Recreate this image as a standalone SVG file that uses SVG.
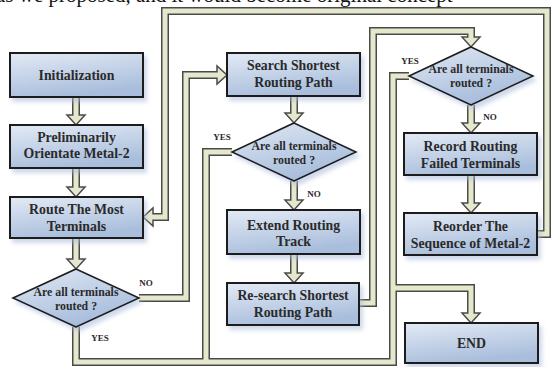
<svg xmlns="http://www.w3.org/2000/svg" xmlns:xlink="http://www.w3.org/1999/xlink" width="551" height="367" viewBox="0 0 551 367">
<style>
.pd{fill:none;stroke:#4a4a48;stroke-width:8;stroke-linejoin:miter}
.pl{fill:none;stroke:#e6e8cd;stroke-width:5;stroke-linejoin:miter}
.hd{fill:#e6e8cd;stroke:#4a4a48;stroke-width:1.5;stroke-linejoin:miter}
.box{fill:url(#gb);stroke:#1e1e1e;stroke-width:2;filter:url(#sh)}
.dia{fill:url(#gd);stroke:#1e1e1e;stroke-width:1.6;filter:url(#sh)}
.t{font-family:"Liberation Serif","Times New Roman",serif;font-weight:bold;font-size:13.8px;fill:#2a2a2a;text-anchor:middle}
.td{font-family:"Liberation Serif","Times New Roman",serif;font-weight:bold;font-size:11.8px;fill:#2a2a2a;text-anchor:middle}
.lb{font-family:"Liberation Serif","Times New Roman",serif;font-weight:bold;font-size:9px;fill:#2a2a2a;text-anchor:middle}
.top{font-family:"Liberation Serif","Times New Roman",serif;font-size:21px;fill:#111}
</style>
<defs>
<linearGradient id="gb" x1="0" y1="0" x2="0.35" y2="1">
<stop offset="0" stop-color="#e3eaf5"/>
<stop offset="1" stop-color="#a9bedc"/>
</linearGradient>
<linearGradient id="gd" x1="0" y1="0" x2="0.5" y2="1">
<stop offset="0" stop-color="#e0e8f4"/>
<stop offset="1" stop-color="#a6bcdb"/>
</linearGradient>
<filter id="sh" x="-10%" y="-15%" width="130%" height="150%">
<feDropShadow dx="3" dy="4" stdDeviation="2" flood-color="#a8b9da" flood-opacity="0.55"/>
</filter>
<polygon id="hdn" points="-9,-10 9,-10 0,0"/>
<path id="c1" d="M76 97 V117"/>
<path id="c2" d="M76 168 V189"/>
<path id="c3" d="M76 238 V261"/>
<path id="c4" d="M139 298 H186 V75 H219"/>
<path id="c5" d="M409 76 H393 V362 H76 V327"/>
<path id="c6" d="M232 152 H206 V362"/>
<path id="c7" d="M294 96 V115"/>
<path id="c8" d="M294 181 V202"/>
<path id="c9" d="M294 254 V275"/>
<path id="c10" d="M359 303 H373 V31 H471 V39"/>
<path id="c12" d="M393 288 H471 V315"/>
<path id="c13" d="M471 105 V125"/>
<path id="c14" d="M471 175 V205"/>
<path id="c15" d="M537 234 H547 V11 H165 V217 H151"/>
</defs>
<rect width="551" height="367" fill="#ffffff"/>
<text class="top" x="-4" y="2">as we proposed, and it would become original concept</text>
<g id="connectors">
<g class="pd">
<use xlink:href="#c1"/><use xlink:href="#c2"/><use xlink:href="#c3"/><use xlink:href="#c4"/>
<use xlink:href="#c5"/><use xlink:href="#c6"/><use xlink:href="#c7"/><use xlink:href="#c8"/>
<use xlink:href="#c9"/><use xlink:href="#c10"/><use xlink:href="#c12"/><use xlink:href="#c13"/>
<use xlink:href="#c14"/><use xlink:href="#c15"/>
</g>
<g class="hd">
<use xlink:href="#hdn" transform="translate(76,125)"/>
<use xlink:href="#hdn" transform="translate(76,197)"/>
<use xlink:href="#hdn" transform="translate(76,269)"/>
<use xlink:href="#hdn" transform="translate(227,75) rotate(-90)"/>
<use xlink:href="#hdn" transform="translate(294,123)"/>
<use xlink:href="#hdn" transform="translate(294,210)"/>
<use xlink:href="#hdn" transform="translate(294,283)"/>
<use xlink:href="#hdn" transform="translate(471,47)"/>
<use xlink:href="#hdn" transform="translate(471,323)"/>
<use xlink:href="#hdn" transform="translate(471,133)"/>
<use xlink:href="#hdn" transform="translate(471,213)"/>
<use xlink:href="#hdn" transform="translate(143,217) rotate(90)"/>
</g>
<g class="pl">
<use xlink:href="#c1"/><use xlink:href="#c2"/><use xlink:href="#c3"/><use xlink:href="#c4"/>
<use xlink:href="#c5"/><use xlink:href="#c6"/><use xlink:href="#c7"/><use xlink:href="#c8"/>
<use xlink:href="#c9"/><use xlink:href="#c10"/><use xlink:href="#c12"/><use xlink:href="#c13"/>
<use xlink:href="#c14"/><use xlink:href="#c15"/>
</g>
<text class="lb" x="146" y="286">NO</text>
<text class="lb" x="100" y="341">YES</text>
<text class="lb" x="222" y="140">YES</text>
<text class="lb" x="314" y="197">NO</text>
<text class="lb" x="410" y="64">YES</text>
<text class="lb" x="490" y="120">NO</text>
</g>
<g id="n-init"><rect class="box" x="10" y="53" width="133" height="44"/><text class="t" x="76.5" y="80">Initialization</text></g>
<g id="n-prelim"><rect class="box" x="10" y="125" width="133" height="43"/><text class="t" x="76.5" y="142">Preliminarily</text><text class="t" x="76.5" y="158">Orientate Metal-2</text></g>
<g id="n-route"><rect class="box" x="10" y="197" width="133" height="41"/><text class="t" x="76.5" y="214">Route The Most</text><text class="t" x="76.5" y="231">Terminals</text></g>
<g id="n-d1"><polygon class="dia" points="76,269 139,298 76,327 13,298"/><text class="td" x="76" y="296">Are all terminals</text><text class="td" x="76" y="310">routed ?</text></g>
<g id="n-search"><rect class="box" x="227" y="53" width="133" height="43"/><text class="t" x="293.5" y="70">Search Shortest</text><text class="t" x="293.5" y="87">Routing Path</text></g>
<g id="n-d2"><polygon class="dia" points="294,123 356,152 294,181 232,152"/><text class="td" x="294" y="150">Are all terminals</text><text class="td" x="294" y="164">routed ?</text></g>
<g id="n-extend"><rect class="box" x="227" y="210" width="133" height="44"/><text class="t" x="293.5" y="230">Extend Routing</text><text class="t" x="293.5" y="246">Track</text></g>
<g id="n-research"><rect class="box" x="227" y="283" width="132" height="42"/><text class="t" x="293" y="300">Re-search Shortest</text><text class="t" x="293" y="317">Routing Path</text></g>
<g id="n-d3"><polygon class="dia" points="471,47 533,76 471,105 409,76"/><text class="td" x="471" y="73">Are all terminals</text><text class="td" x="471" y="87">routed ?</text></g>
<g id="n-record"><rect class="box" x="404" y="133" width="133" height="42"/><text class="t" x="470.5" y="151">Record Routing</text><text class="t" x="470.5" y="168">Failed Terminals</text></g>
<g id="n-reorder"><rect class="box" x="404" y="213" width="133" height="42"/><text class="t" x="470.5" y="231">Reorder The</text><text class="t" x="470.5" y="248">Sequence of Metal-2</text></g>
<g id="n-end"><rect class="box" x="405" y="323" width="133" height="40"/><text class="t" x="471.5" y="348">END</text></g>
</svg>
